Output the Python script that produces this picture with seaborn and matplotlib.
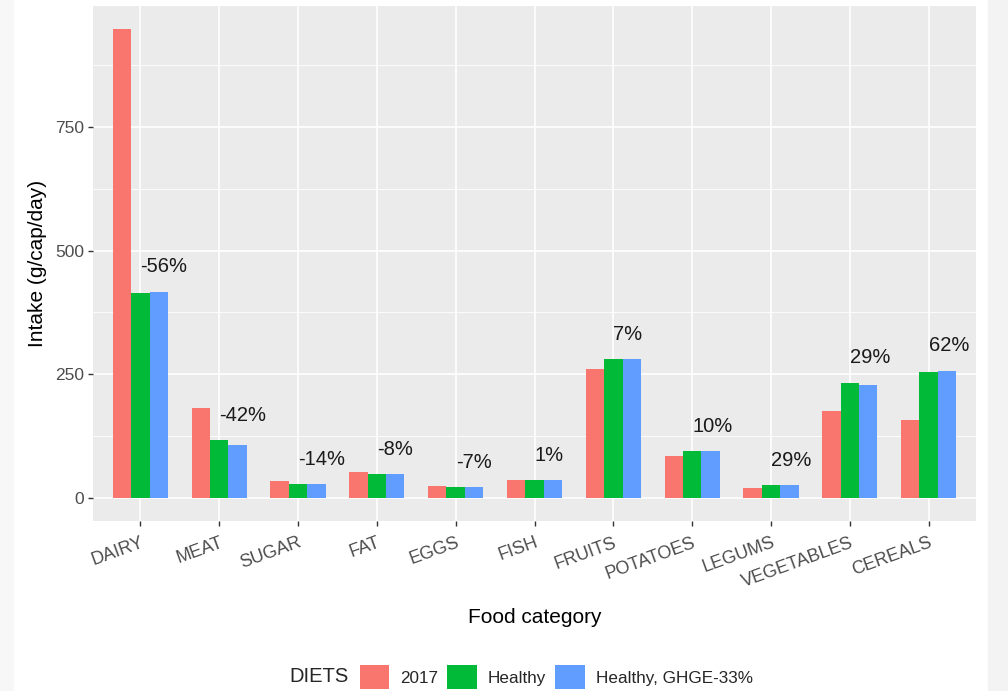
# Food intake by category for three diets (ggplot-like look, drawn with seaborn)
import pandas as pd
import numpy as np
import matplotlib.pyplot as plt
import seaborn as sns
from matplotlib.patches import Patch, Rectangle
from matplotlib.ticker import MultipleLocator

categories = ['DAIRY', 'MEAT', 'SUGAR', 'FAT', 'EGGS', 'FISH', 'FRUITS',
              'POTATOES', 'LEGUMS', 'VEGETABLES', 'CEREALS']
diets = ['2017', 'Healthy', 'Healthy, GHGE-33%']
intake_2017 = [948, 181, 33, 51, 24, 36, 261, 85, 19, 176, 158]
intake_healthy = [415, 117, 27, 48, 21, 36, 281, 94, 24.5, 233, 255]
intake_ghge = [417, 106, 28, 48, 21, 36, 281, 94, 24.5, 227, 257]
change_labels = ['-56%', '-42%', '-14%', '-8%', '-7%', '1%', '7%', '10%',
                 '29%', '29%', '62%']
palette = ['#F8766D', '#00BA38', '#619CFF']

df = pd.DataFrame({
    'category': categories * 3,
    'diet': [d for d in diets for _ in categories],
    'intake': intake_2017 + intake_healthy + intake_ghge,
})

sns.set_theme(style='darkgrid')
plt.rcParams['font.family'] = ['Liberation Sans', 'DejaVu Sans']

fig = plt.figure(figsize=(10.08, 6.91), dpi=100)
# light side strips from the screenshot
fig.patches.append(Rectangle((0, 0), 13 / 1008, 1, transform=fig.transFigure,
                             color='#f7f7f7', zorder=-10))
fig.patches.append(Rectangle((988 / 1008, 0), 20 / 1008, 1, transform=fig.transFigure,
                             color='#f3f3f3', zorder=-10))
ax = fig.add_axes([93 / 1008, 1 - 521 / 691, (976 - 93) / 1008, (521 - 6) / 691])
ax.set_facecolor('#EBEBEB')

sns.barplot(data=df, x='category', y='intake', hue='diet', hue_order=diets,
            order=categories, palette=palette, width=0.7, linewidth=0,
            saturation=1, legend=False, ax=ax, zorder=3)

# percentage change labels, left-aligned at the category centre
for i, lab in enumerate(change_labels):
    ax.text(i, max(intake_healthy[i], intake_ghge[i]) + 50, lab,
            ha='left', va='center', fontsize=14.5, color='#1a1a1a', zorder=4)

ymax = max(intake_2017)
ax.set_ylim(-0.05 * ymax, 1.05 * ymax)
ax.set_xlim(-0.6, len(categories) - 0.4)
ax.yaxis.set_major_locator(MultipleLocator(250))
ax.yaxis.set_minor_locator(MultipleLocator(125))
ax.grid(which='major', color='white', linewidth=1.2, zorder=0)
ax.grid(which='minor', axis='y', color='white', linewidth=0.6, zorder=0)
ax.set_axisbelow(True)
for s in ax.spines.values():
    s.set_visible(False)

ax.tick_params(axis='both', which='major', length=3.5, width=1, color='#333333',
               labelcolor='#4d4d4d', labelsize=12.5, pad=3, direction='out')
ax.tick_params(axis='x', labelsize=13, pad=6)
ax.tick_params(axis='y', which='minor', length=0)
ax.tick_params(axis='x', bottom=True)
ax.tick_params(axis='y', left=True)
plt.setp(ax.get_xticklabels(), rotation=20, ha='right', rotation_mode='anchor')

ax.set_xlabel('Food category', fontsize=15, color='black', labelpad=13)
ax.set_ylabel('Intake (g/cap/day)', fontsize=15, color='black', labelpad=6)

handles = [Patch(facecolor=c, edgecolor='none') for c in palette]
fig.text(289 / 1008, 1 - 677 / 691, 'DIETS', fontsize=14.5, va='center', ha='left')
fig.legend(handles, diets, loc='center left', bbox_to_anchor=(351 / 1008, 1 - 677 / 691),
           ncol=3, frameon=False, fontsize=12.3, handlelength=1.75, handleheight=1.8,
           handletextpad=0.65, columnspacing=0.5, borderpad=0)

fig.savefig('out.png', dpi=100)
